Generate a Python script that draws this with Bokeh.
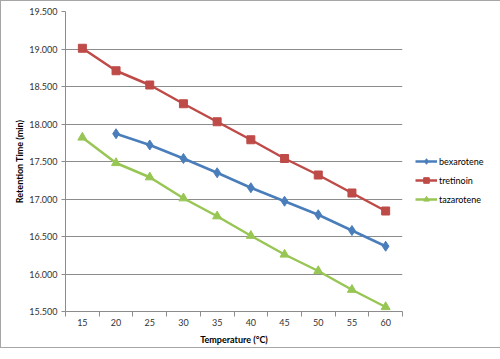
from bokeh.plotting import figure
from bokeh.models import Legend, LegendItem, FixedTicker, NumeralTickFormatter, Range1d
from bokeh.embed import file_html
from bokeh.resources import INLINE

temps = [15, 20, 25, 30, 35, 40, 45, 50, 55, 60]
bex_t = [20, 25, 30, 35, 40, 45, 50, 55, 60]
bexarotene = [17.87, 17.72, 17.54, 17.35, 17.15, 16.97, 16.79, 16.58, 16.37]
tretinoin = [19.01, 18.71, 18.52, 18.27, 18.03, 17.79, 17.54, 17.32, 17.08, 16.84]
tazarotene = [17.82, 17.48, 17.29, 17.01, 16.77, 16.51, 16.26, 16.04, 15.79, 15.56]
y_ticks = [15.5, 16.0, 16.5, 17.0, 17.5, 18.0, 18.5, 19.0, 19.5]

FONT = "Lato"
p = figure(width=484, height=343, output_backend="svg", toolbar_location=None,
           x_range=Range1d(12.5, 62.5), y_range=Range1d(15.5, 19.5),
           min_border_left=64, min_border_top=10, min_border_right=83, min_border_bottom=33)
p.frame_width = 337
p.frame_height = 300
p.outline_line_color = None
p.styles = {"border": "1px solid #a6a6a6"}

p.xgrid.grid_line_color = None
p.ygrid.grid_line_color = "#8c8c8c"
p.ygrid.grid_line_width = 1

p.xaxis.ticker = FixedTicker(ticks=temps, minor_ticks=[12.5 + 5 * i for i in range(11)])
p.xaxis.major_tick_out = 0
p.xaxis.major_tick_in = 0
p.xaxis.minor_tick_out = 5
p.xaxis.minor_tick_in = 0
p.xaxis.minor_tick_line_color = "#8c8c8c"
p.xaxis.axis_line_color = "#8c8c8c"
p.xaxis.axis_label = "Temperature (°C)"

p.yaxis.ticker = FixedTicker(ticks=y_ticks)
p.yaxis.formatter = NumeralTickFormatter(format="0.000")
p.yaxis.major_tick_out = 4
p.yaxis.major_tick_in = 0
p.yaxis.minor_tick_line_color = None
p.yaxis.axis_line_color = "#8c8c8c"
p.yaxis.major_tick_line_color = "#8c8c8c"
p.yaxis.axis_label = "Retention Time (min)"

for ax in (p.xaxis, p.yaxis):
    ax.major_label_text_font = FONT
    ax.major_label_text_font_size = "9px"
    ax.major_label_text_color = "#333333"
    ax.axis_label_text_font = FONT
    ax.axis_label_text_font_size = "9px"
    ax.axis_label_text_font_style = "bold"
    ax.axis_label_text_color = "#000000"
p.xaxis.major_label_standoff = 2
p.xaxis.axis_label_standoff = 5
p.yaxis.major_label_standoff = 4
p.yaxis.axis_label_standoff = 1

blue, red, green = "#4a7ebb", "#be4b48", "#98c654"
l1 = p.line(bex_t, bexarotene, line_color=blue, line_width=2.5)
m1 = p.scatter(bex_t, bexarotene, marker="diamond", size=10, color=blue)
l2 = p.line(temps, tretinoin, line_color=red, line_width=2.5)
m2 = p.scatter(temps, tretinoin, marker="square", size=8, color=red)
l3 = p.line(temps, tazarotene, line_color=green, line_width=2.5)
m3 = p.scatter(temps, tazarotene, marker="triangle", size=9, color=green)

legend = Legend(items=[LegendItem(label="bexarotene", renderers=[l1, m1]),
                       LegendItem(label="tretinoin", renderers=[l2, m2]),
                       LegendItem(label="tazarotene", renderers=[l3, m3])],
                location=(13, 105))
legend.border_line_color = None
legend.background_fill_alpha = 0
legend.label_text_font = FONT
legend.label_text_font_size = "9px"
legend.label_text_color = "#000000"
legend.glyph_width = 22
legend.glyph_height = 14
legend.spacing = 5
legend.padding = 2
legend.margin = 0
legend.label_standoff = 2
p.add_layout(legend, "right")

open("out.html", "w").write(file_html(p, INLINE))
